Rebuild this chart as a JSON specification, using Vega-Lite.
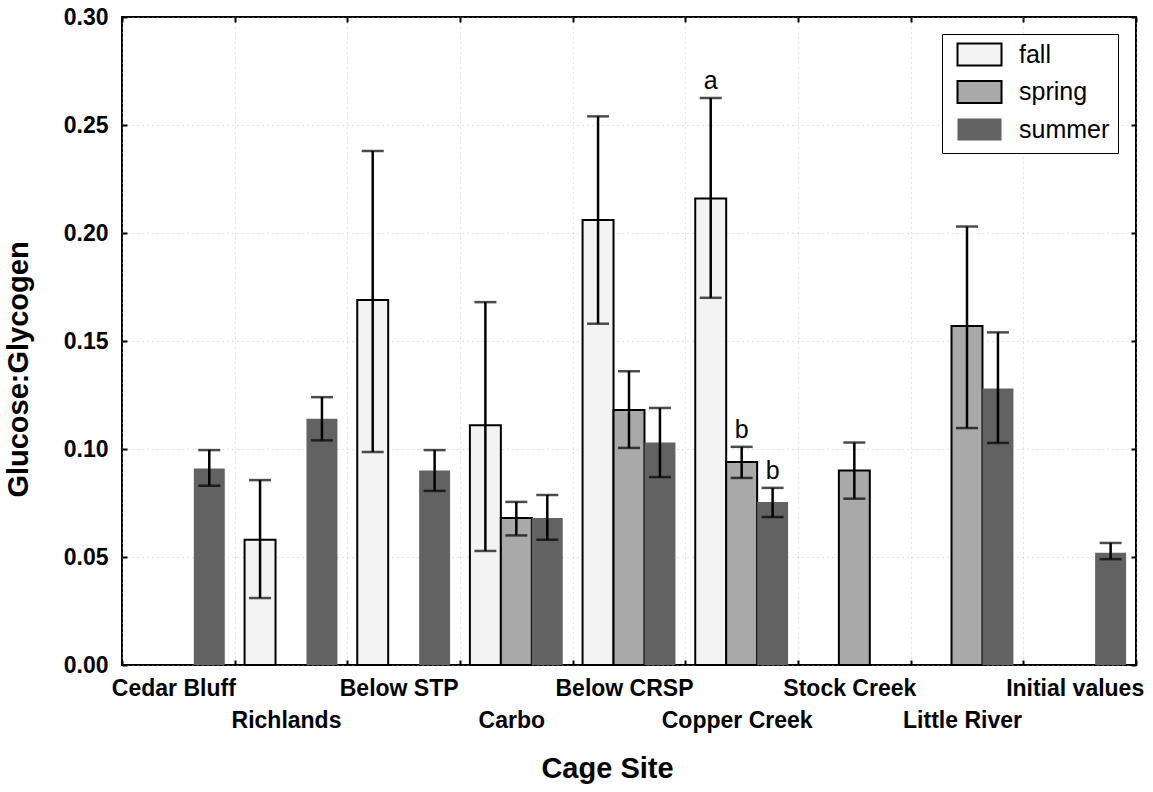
{
  "$schema": "https://vega.github.io/schema/vega-lite/v6.json",
  "width": 1014,
  "height": 648,
  "autosize": {"type": "none"},
  "padding": {"left": 122, "top": 17, "right": 17, "bottom": 127},
  "background": "white",
  "data": {
    "values": [
      {"site": "Cedar Bluff", "season": "summer", "value": 0.091, "lo": 0.083, "hi": 0.0995, "letter": ""},
      {"site": "Richlands", "season": "fall", "value": 0.058, "lo": 0.031, "hi": 0.0856, "letter": ""},
      {"site": "Richlands", "season": "summer", "value": 0.114, "lo": 0.104, "hi": 0.124, "letter": ""},
      {"site": "Below STP", "season": "fall", "value": 0.169, "lo": 0.0986, "hi": 0.238, "letter": ""},
      {"site": "Below STP", "season": "summer", "value": 0.09, "lo": 0.0806, "hi": 0.0995, "letter": ""},
      {"site": "Carbo", "season": "fall", "value": 0.111, "lo": 0.0528, "hi": 0.168, "letter": ""},
      {"site": "Carbo", "season": "spring", "value": 0.068, "lo": 0.06, "hi": 0.0755, "letter": ""},
      {"site": "Carbo", "season": "summer", "value": 0.068, "lo": 0.058, "hi": 0.0787, "letter": ""},
      {"site": "Below CRSP", "season": "fall", "value": 0.206, "lo": 0.158, "hi": 0.254, "letter": ""},
      {"site": "Below CRSP", "season": "spring", "value": 0.118, "lo": 0.1005, "hi": 0.136, "letter": ""},
      {"site": "Below CRSP", "season": "summer", "value": 0.103, "lo": 0.087, "hi": 0.119, "letter": ""},
      {"site": "Copper Creek", "season": "fall", "value": 0.216, "lo": 0.17, "hi": 0.2625, "letter": "a"},
      {"site": "Copper Creek", "season": "spring", "value": 0.094, "lo": 0.0866, "hi": 0.101, "letter": "b"},
      {"site": "Copper Creek", "season": "summer", "value": 0.0755, "lo": 0.0685, "hi": 0.082, "letter": "b"},
      {"site": "Stock Creek", "season": "spring", "value": 0.09, "lo": 0.077, "hi": 0.103, "letter": ""},
      {"site": "Little River", "season": "spring", "value": 0.157, "lo": 0.1097, "hi": 0.203, "letter": ""},
      {"site": "Little River", "season": "summer", "value": 0.128, "lo": 0.1028, "hi": 0.154, "letter": ""},
      {"site": "Initial values", "season": "summer", "value": 0.052, "lo": 0.049, "hi": 0.0565, "letter": ""}
    ]
  },
  "resolve": {"axis": {"x": "independent", "y": "independent"}},
  "layer": [
    {
      "mark": {"type": "bar", "strokeWidth": 2},
      "encoding": {
        "x": {
          "field": "site", "type": "nominal",
          "scale": {"domain": ["Cedar Bluff", "Richlands", "Below STP", "Carbo", "Below CRSP", "Copper Creek", "Stock Creek", "Little River", "Initial values"], "paddingInner": 0, "paddingOuter": 0},
          "axis": {
            "orient": "bottom", "title": "Cage Site", "tickBand": "extent", "labelAngle": 0,
            "labelOverlap": false, "labelBound": false, "labelFlush": false,
            "labelBaseline": "top", "labelPadding": 17, "labelLineHeight": 32, "labelOffset": -5,
            "labelExpr": "indexof(['Richlands','Carbo','Copper Creek','Little River'], datum.value) >= 0 ? ['', datum.label] : datum.label",
            "titleX": 485, "titleY": 89, "titleBaseline": "top", "titleAnchor": null,
            "grid": true
          }
        },
        "xOffset": {"field": "season", "type": "nominal", "scale": {"domain": ["fall", "spring", "summer"], "paddingOuter": 0.32, "paddingInner": 0}},
        "y": {
          "field": "value", "type": "quantitative",
          "scale": {"domain": [0, 0.3], "nice": false, "zero": true},
          "axis": {
            "orient": "left", "title": "Glucose:Glycogen", "values": [0, 0.05, 0.1, 0.15, 0.2, 0.25, 0.3], "format": ".2f",
            "labelPadding": 19, "grid": true,
            "titleX": -89, "titleY": 352, "titleAngle": -90, "titleBaseline": "bottom", "titleAnchor": null
          }
        },
        "fill": {
          "field": "season", "type": "nominal",
          "scale": {"domain": ["fall", "spring", "summer"], "range": ["#f3f3f3", "#a9a9a9", "#626262"]},
          "legend": {"title": null, "orient": "none", "legendX": 820, "legendY": 17}
        },
        "stroke": {
          "field": "season", "type": "nominal",
          "scale": {"domain": ["fall", "spring", "summer"], "range": ["#000000", "#000000", "transparent"]},
          "legend": {"title": null, "orient": "none", "legendX": 820, "legendY": 17}
        }
      }
    },
    {
      "mark": {"type": "rule", "strokeWidth": 2.5, "color": "black"},
      "encoding": {
        "x": {
          "field": "site", "type": "nominal",
          "scale": {"domain": ["Cedar Bluff", "Richlands", "Below STP", "Carbo", "Below CRSP", "Copper Creek", "Stock Creek", "Little River", "Initial values"], "paddingInner": 0, "paddingOuter": 0},
          "axis": {"orient": "top", "labels": false, "title": null, "tickBand": "extent", "grid": false}
        },
        "xOffset": {"field": "season", "type": "nominal", "scale": {"domain": ["fall", "spring", "summer"], "paddingOuter": 0.32, "paddingInner": 0}},
        "y": {
          "field": "lo", "type": "quantitative",
          "axis": {"orient": "right", "labels": false, "title": null, "values": [0, 0.05, 0.1, 0.15, 0.2, 0.25, 0.3], "grid": false}
        },
        "y2": {"field": "hi"}
      }
    },
    {
      "mark": {"type": "tick", "color": "black", "thickness": 2.5, "size": 22, "orient": "horizontal"},
      "encoding": {
        "x": {"field": "site", "type": "nominal", "axis": null},
        "xOffset": {"field": "season", "type": "nominal"},
        "y": {"field": "lo", "type": "quantitative", "axis": null}
      }
    },
    {
      "mark": {"type": "tick", "color": "black", "thickness": 2.5, "size": 22, "orient": "horizontal"},
      "encoding": {
        "x": {"field": "site", "type": "nominal", "axis": null},
        "xOffset": {"field": "season", "type": "nominal"},
        "y": {"field": "hi", "type": "quantitative", "axis": null}
      }
    },
    {
      "mark": {"type": "text", "color": "black", "fontSize": 25, "font": "Liberation Sans", "baseline": "alphabetic", "dy": -9},
      "encoding": {
        "x": {"field": "site", "type": "nominal", "axis": null},
        "xOffset": {"field": "season", "type": "nominal"},
        "y": {"field": "hi", "type": "quantitative", "axis": null},
        "text": {"field": "letter"}
      }
    }
  ],
  "config": {
    "view": {"stroke": "black", "strokeWidth": 2},
    "font": "Liberation Sans",
    "axis": {
      "labelFont": "Liberation Sans", "labelFontWeight": "bold", "labelFontSize": 23, "labelColor": "black",
      "titleFont": "Liberation Sans", "titleFontSize": 29, "titleFontWeight": "bold", "titleColor": "black",
      "tickColor": "black", "tickWidth": 2, "tickSize": -5, "domain": false,
      "gridColor": "#b0b0b0", "gridDash": [1, 4], "gridWidth": 1, "gridOpacity": 0.7
    },
    "legend": {
      "labelFont": "Liberation Sans", "labelFontSize": 25, "labelColor": "black",
      "symbolType": "M-2,-1H2V1H-2Z", "symbolSize": 484, "symbolStrokeWidth": 2, "symbolOpacity": 1,
      "padding": 8, "rowPadding": 6.5, "symbolOffset": 17, "labelOffset": 27,
      "strokeColor": "black", "fillColor": "white"
    }
  }
}
